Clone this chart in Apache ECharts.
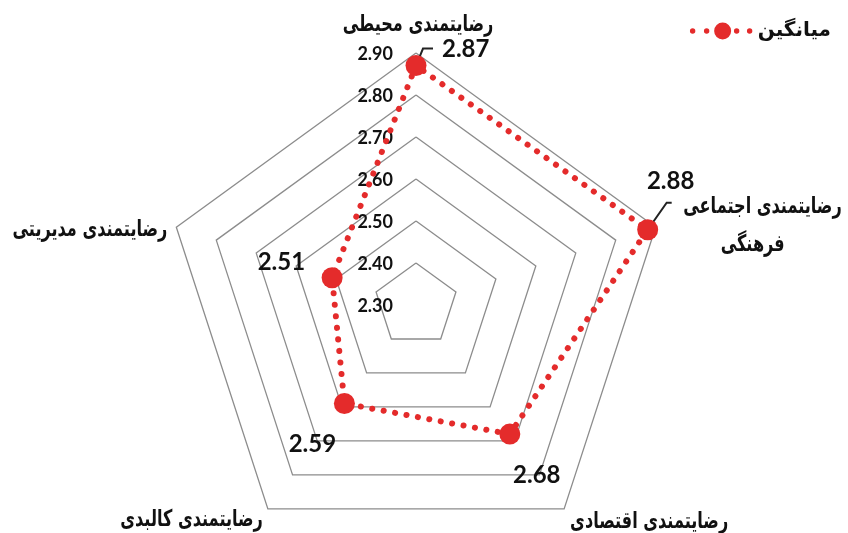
<!DOCTYPE html>
<html><head><meta charset="utf-8">
<script src="https://cdn.jsdelivr.net/npm/echarts@6/dist/echarts.min.js"></script>
<style>html,body{margin:0;padding:0;background:#fff}#c{width:848px;height:533px}</style>
</head><body><div id="c"></div>
<script>
// Data
const indicatorNames = ['رضایتمندی محیطی', 'رضایتمندی مدیریتی', 'رضایتمندی کالبدی', 'رضایتمندی اقتصادی', 'رضایتمندی اجتماعی فرهنگی'];
const meanValues = [2.87, 2.51, 2.59, 2.68, 2.88];
const seriesName = 'میانگین';
const tickLabels = ['2.30', '2.40', '2.50', '2.60', '2.70', '2.80', '2.90'];
const axisMin = 2.3, axisMax = 2.9;

const RED = '#e42b2b';
const FA = '"DejaVu Sans", sans-serif';
const NUM = 'Lato, "Liberation Sans", sans-serif';

const chart = echarts.init(document.getElementById('c'), null, {renderer: 'canvas'});
const legendIcon = 'path://M0.3,8.5a2.7,2.7 0 1,0 5.4,0a2.7,2.7 0 1,0 -5.4,0z' +
  'M14.3,8.5a2.7,2.7 0 1,0 5.4,0a2.7,2.7 0 1,0 -5.4,0z' +
  'M24.5,8.5a8.5,8.5 0 1,0 17,0a8.5,8.5 0 1,0 -17,0z' +
  'M44.3,8.5a2.7,2.7 0 1,0 5.4,0a2.7,2.7 0 1,0 -5.4,0z' +
  'M57.3,8.5a2.7,2.7 0 1,0 5.4,0a2.7,2.7 0 1,0 -5.4,0z';

chart.setOption({
  animation: false,
  backgroundColor: '#fff',
  legend: {
    data: [seriesName], right: 12, top: 16, itemWidth: 63, itemHeight: 17, itemGap: 8,
    icon: legendIcon,
    textStyle: {fontFamily: FA, fontWeight: 'bold', fontSize: 20, color: '#111'}
  },
  radar: {
    center: [416, 305], radius: 252, shape: 'polygon', splitNumber: 6, startAngle: 90,
    indicator: indicatorNames.map(n => ({name: n, min: axisMin, max: axisMax})),
    axisName: {show: false},
    axisLine: {show: false}, axisTick: {show: false}, axisLabel: {show: false},
    splitArea: {show: false},
    splitLine: {lineStyle: {color: '#8c8c8c', width: 1.3}}
  },
  series: [{
    type: 'radar', name: seriesName,
    symbol: 'circle', symbolSize: 21,
    itemStyle: {color: RED},
    lineStyle: {color: RED, width: 6, type: [0.1, 11.5], cap: 'round'},
    data: [{value: meanValues, name: seriesName}]
  }]
});

const cs = chart.getModel().getComponent('radar', 0).coordinateSystem;
const pt = (v, i) => cs.dataToPoint(v, i);
const g = [];
const txt = (x, y, s, align, size, family, sx) => g.push({
  type: 'text', x: x, y: y, silent: true, scaleX: sx || 1,
  style: {text: s, align: align, verticalAlign: 'middle', fill: '#111',
    font: 'bold ' + size + 'px ' + family}
});
const line = (pts) => g.push({type: 'polyline', silent: true, z: 0,
  shape: {points: pts}, style: {stroke: '#222', lineWidth: 2, fill: null}});

// tick labels along the first axis
tickLabels.forEach(t => {
  const p = pt(parseFloat(t), 0);
  txt(p[0] - 23, p[1] + 1, t, 'right', 18, NUM);
});

// indicator names placed from the outer vertices
const SX = 0.7, FS = 23;
const V = indicatorNames.map((n, i) => pt(axisMax, i));
txt(V[0][0] + 2, V[0][1] - 28, indicatorNames[0], 'center', FS, FA, SX);
txt(V[1][0] - 9, V[1][1] + 3, indicatorNames[1], 'right', FS, FA, SX);
txt(V[2][0] - 5, V[2][1] + 11, indicatorNames[2], 'right', FS, FA, SX);
txt(V[3][0] + 6, V[3][1] + 13, indicatorNames[3], 'left', FS, FA, SX);
const parts = indicatorNames[4].split(' ');
txt(V[4][0] + 186, V[4][1] - 20, parts[0] + ' ' + parts[1], 'right', FS, FA, SX);
txt(V[4][0] + 97, V[4][1] + 18, parts[2], 'center', FS, FA, SX);

// value labels
const P = meanValues.map((v, i) => pt(v, i));
const fmt = v => v.toFixed(2);
line([[P[0][0], P[0][1]], [P[0][0] + 7, P[0][1] - 17], [P[0][0] + 17, P[0][1] - 17]]);
txt(P[0][0] + 26, P[0][1] - 16, fmt(meanValues[0]), 'left', 24, NUM);
txt(P[1][0] - 27, P[1][1] - 15, fmt(meanValues[1]), 'right', 24, NUM);
txt(P[2][0] - 32, P[2][1] + 41, fmt(meanValues[2]), 'center', 24, NUM);
txt(P[3][0] + 27, P[3][1] + 41, fmt(meanValues[3]), 'center', 24, NUM);
line([[P[4][0], P[4][1]], [P[4][0] + 19, P[4][1] - 27], [P[4][0] + 24, P[4][1] - 27]]);
txt(P[4][0] + 23, P[4][1] - 48, fmt(meanValues[4]), 'center', 24, NUM);

chart.setOption({graphic: g});
</script></body></html>
